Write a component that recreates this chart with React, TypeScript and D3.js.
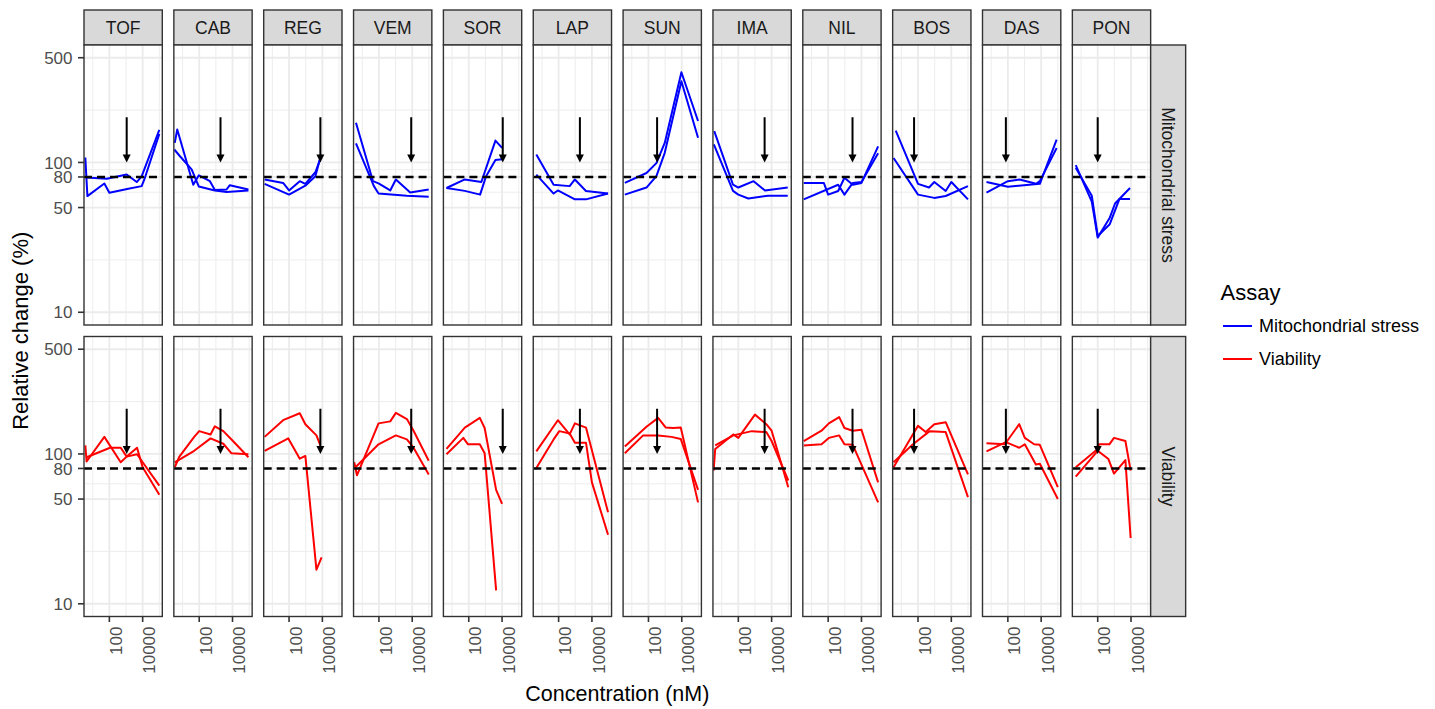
import React from 'react';
import * as d3 from 'd3';

// facets and labels
const drugs = ["TOF", "CAB", "REG", "VEM", "SOR", "LAP", "SUN", "IMA", "NIL", "BOS", "DAS", "PON"];
const assays = ["Mitochondrial stress", "Viability"];
const assayColors = ["#0000FF", "#FF0000"];
// arrow position (nM) per drug
const arrowConc = [1100, 1900, 7600, 8700, 11000, 1900, 330, 3800, 2900, 58, 76, 100];
const arrowFrom = 200;
const arrowTo = 100;
const threshold = 80;
const yBreaks = [10, 50, 80, 100, 500];
const yLimits = [10, 500];
const xBreaks = [100, 10000];
const xLimits = [3.0, 151000];

type Pt = [number, number];

// [concentration nM, relative change %] per replicate
const TOF_mito: Pt[][] = [
  [[3.6, 108], [4.8, 59.6], [50, 72.4], [100, 62.8], [1380, 66.8], [8700, 69.5], [12600, 77], [100000, 155]],
  [[4, 79.4], [70, 77.8], [1100, 83], [4400, 74], [8700, 80.7], [100000, 165]],
];
const CAB_mito: Pt[][] = [
  [[3.4, 135], [4.8, 166], [44, 71], [95, 82], [440, 75], [870, 65.4], [4400, 66], [6900, 70.5], [90000, 66]],
  [[3.2, 122], [7, 110], [35, 90], [95, 69], [870, 65], [4400, 63.5], [90000, 65]],
];
const REG_mito: Pt[][] = [
  [[3.4, 77], [44, 73], [100, 65], [440, 75], [950, 72], [3800, 86], [7600, 106]],
  [[3.4, 72], [100, 61], [950, 70], [3800, 81], [8500, 113]],
];
const VEM_mito: Pt[][] = [
  [[4.2, 184], [44, 75], [95, 72.5], [480, 65], [1040, 77], [7600, 63], [98000, 66]],
  [[4.2, 134], [50, 69.5], [95, 62], [4800, 60], [98000, 59]],
];
const SOR_mito: Pt[][] = [
  [[4.6, 67.5], [58, 77], [570, 74], [4000, 140], [10000, 125]],
  [[4.6, 67.5], [58, 64.6], [480, 61], [1100, 81], [4000, 104], [10000, 105]],
];
const LAP_mito: Pt[][] = [
  [[4.6, 113], [50, 71], [460, 69.5], [950, 77], [4400, 64.5], [93000, 62]],
  [[4.6, 83], [50, 62], [90, 65], [950, 56.7], [4400, 56.7], [93000, 62]],
];
const SUN_mito: Pt[][] = [
  [[3.8, 73], [76, 85], [300, 99], [950, 135], [9500, 400], [95000, 189]],
  [[3.8, 61], [76, 68], [300, 81], [950, 116], [9500, 348], [95000, 146]],
];
const IMA_mito: Pt[][] = [
  [[3.6, 162], [48, 71], [100, 68], [830, 75], [4000, 65], [93000, 68]],
  [[3.4, 132], [48, 64.6], [100, 61], [400, 57.5], [6000, 60], [93000, 60]],
];
const NIL_mito: Pt[][] = [
  [[3.4, 73], [55, 73], [100, 61], [400, 64.5], [950, 79], [3000, 71], [10000, 73], [100000, 128]],
  [[3.4, 56.7], [400, 71], [950, 61], [3000, 73], [10000, 74], [100000, 115]],
];
const BOS_mito: Pt[][] = [
  [[4.6, 163], [100, 72], [460, 68], [950, 74], [4600, 64.5], [10000, 74], [100000, 56.7]],
  [[3.4, 107], [100, 61], [950, 58], [4600, 59.7], [100000, 69.5]],
];
const DAS_mito: Pt[][] = [
  [[5.2, 74], [100, 68.8], [8300, 72], [85000, 142]],
  [[5.2, 63], [100, 75], [500, 77], [5000, 72], [8300, 75], [85000, 125]],
];
const PON_mito: Pt[][] = [
  [[4.8, 96], [44, 54.7], [100, 31.5], [530, 42.8], [1100, 53.2], [8700, 67.5]],
  [[4.8, 92], [44, 60], [100, 32.3], [530, 38.7], [2000, 57], [8700, 57]],
];

const TOF_viab: Pt[][] = [
  [[3.6, 114], [4.3, 89], [50, 130], [480, 88], [1100, 96], [4600, 110], [10000, 81.5], [100000, 53.5]],
  [[4.3, 95], [110, 110], [480, 110], [1100, 96], [4600, 99.5], [10000, 88], [100000, 61.5]],
];
const CAB_viab: Pt[][] = [
  [[3.4, 81.5], [6.3, 95.5], [50, 130], [100, 142], [480, 135], [870, 153], [2800, 142], [8700, 125], [90000, 95]],
  [[3.4, 88], [50, 105], [480, 127], [2800, 117], [8700, 101], [90000, 99.5]],
];
const REG_viab: Pt[][] = [
  [[3.4, 130], [44, 168], [440, 187], [950, 158], [4400, 133], [7600, 114]],
  [[3.4, 105], [90, 127], [440, 93], [950, 97], [4400, 16.9], [9000, 20.4]],
];
const VEM_viab: Pt[][] = [
  [[3.3, 88], [4.8, 72], [95, 160], [480, 165], [1040, 188], [4800, 171], [12000, 143], [98000, 90]],
  [[3.3, 80], [95, 116], [1040, 133], [4800, 125], [12000, 110], [98000, 73]],
];
const SOR_viab: Pt[][] = [
  [[4.6, 108], [58, 150], [460, 174], [900, 149], [4400, 57.6], [10000, 46.4]],
  [[4.6, 99.5], [47, 128], [90, 116], [460, 116], [900, 101], [4400, 12.3]],
];
const LAP_viab: Pt[][] = [
  [[4.6, 104], [90, 168], [460, 135], [950, 160], [4400, 150], [93000, 40.8]],
  [[4.6, 80.5], [50, 125], [110, 142], [460, 137], [950, 119], [4400, 119], [10000, 64.6], [93000, 28.9]],
];
const SUN_viab: Pt[][] = [
  [[3.8, 112], [76, 152], [380, 174], [1100, 150], [3000, 149], [8700, 150], [95000, 47.5]],
  [[3.8, 101], [48, 133], [380, 133], [2400, 130], [8700, 126], [95000, 57.6]],
];
const IMA_viab: Pt[][] = [
  [[3.3, 77.4], [4.1, 108], [50, 135], [100, 128], [1000, 183], [4800, 158], [10000, 143], [100000, 60]],
  [[4.1, 114], [50, 133], [650, 142], [4800, 140], [10000, 122], [100000, 66.5]],
];
const NIL_viab: Pt[][] = [
  [[3.4, 122], [40, 143], [110, 160], [460, 176], [950, 149], [3000, 143], [10000, 145], [100000, 64.6]],
  [[3.4, 114], [40, 116], [110, 128], [460, 133], [950, 116], [3000, 115], [100000, 47.5]],
];
const BOS_viab: Pt[][] = [
  [[3.4, 81.5], [100, 154], [290, 140], [950, 158], [4600, 163], [100000, 73]],
  [[3.4, 88], [50, 116], [500, 142], [4600, 140], [100000, 51.5]],
];
const DAS_viab: Pt[][] = [
  [[5.2, 118], [66, 116], [480, 158], [1040, 128], [3800, 116], [8300, 115], [100000, 60]],
  [[5.2, 104], [76, 120], [480, 110], [1040, 116], [4800, 85], [8300, 86], [100000, 50]],
];
const PON_viab: Pt[][] = [
  [[4.8, 70.5], [100, 105], [440, 92.5], [950, 74], [4600, 91], [9500, 27.5]],
  [[4.8, 81.5], [100, 108], [120, 116], [500, 116], [950, 128], [4600, 122], [9500, 77.4]],
];

const mitoSeries = [TOF_mito, CAB_mito, REG_mito, VEM_mito, SOR_mito, LAP_mito, SUN_mito, IMA_mito, NIL_mito, BOS_mito, DAS_mito, PON_mito];
const viabSeries = [TOF_viab, CAB_viab, REG_viab, VEM_viab, SOR_viab, LAP_viab, SUN_viab, IMA_viab, NIL_viab, BOS_viab, DAS_viab, PON_viab];

const FONT = "'Liberation Sans', Arial, Helvetica, sans-serif";

export default function App() {
  const width = 1435;
  const height = 709;
  const left0 = 84;
  const pitch = 89.85;
  const panelW = 78.3;
  const panelH = 280;
  const stripH = 35;
  const panelTops = [45, 336.5];
  const stripX = left0 + pitch * 11 + panelW;

  // ggplot style 5% expansion in log space
  const lo = Math.log10(yLimits[0]);
  const hi = Math.log10(yLimits[1]);
  const pad = (hi - lo) * 0.05;
  const y = d3.scaleLog().domain([10 ** (lo - pad), 10 ** (hi + pad)]).range([panelH, 0]);
  const x = d3.scaleLog().domain(xLimits).range([0, panelW]);

  // minor breaks halfway between majors (log space)
  const yMinor = d3.pairs([2, ...yBreaks, 2500]).map(([a, b]) => Math.sqrt(a * b))
    .filter(v => v > y.domain()[0] && v < y.domain()[1]);
  const xMinor = d3.pairs([1, ...xBreaks, 1e6]).map(([a, b]) => Math.sqrt(a * b));

  const line = d3.line<Pt>().x(d => x(d[0])).y(d => y(d[1]));
  const rows = [mitoSeries, viabSeries];

  return (
    <div style={{ position: 'absolute', left: 0, top: 0 }}>
      <svg width={width} height={height} style={{ display: 'block', background: '#fff', fontFamily: FONT }}>
        <defs>
          <clipPath id="pclip"><rect x={0} y={0} width={panelW} height={panelH} /></clipPath>
        </defs>

        {drugs.map((drug, i) => {
          const px = left0 + i * pitch;
          return (
            <g key={drug}>
              {/* top strip */}
              <rect x={px} y={panelTops[0] - stripH} width={panelW} height={stripH} fill="#D9D9D9" stroke="#333333" strokeWidth={1.4} />
              <text x={px + panelW / 2} y={panelTops[0] - stripH / 2} dy="0.36em" textAnchor="middle" fontSize={17.5} fill="#1A1A1A">{drug}</text>

              {rows.map((series, r) => {
                const top = panelTops[r];
                return (
                  <g key={r} transform={`translate(${px},${top})`}>
                    <rect x={0} y={0} width={panelW} height={panelH} fill="#fff" />
                    {yMinor.map(v => <line key={'ym' + v} x1={0} x2={panelW} y1={y(v)} y2={y(v)} stroke="#EBEBEB" strokeWidth={0.9} />)}
                    {xMinor.map(v => <line key={'xm' + v} x1={x(v)} x2={x(v)} y1={0} y2={panelH} stroke="#EBEBEB" strokeWidth={0.9} />)}
                    {yBreaks.map(v => <line key={'yM' + v} x1={0} x2={panelW} y1={y(v)} y2={y(v)} stroke="#EBEBEB" strokeWidth={1.8} />)}
                    {xBreaks.map(v => <line key={'xM' + v} x1={x(v)} x2={x(v)} y1={0} y2={panelH} stroke="#EBEBEB" strokeWidth={1.8} />)}
                    <g clipPath="url(#pclip)">
                      {series[i].map((rep, k) => (
                        <path key={k} d={line(rep) || ''} fill="none" stroke={assayColors[r]} strokeWidth={2} strokeLinejoin="round" />
                      ))}
                      <line x1={0} x2={panelW} y1={y(threshold)} y2={y(threshold)} stroke="#000" strokeWidth={2.6} strokeDasharray="8,5" />
                      <line x1={x(arrowConc[i])} x2={x(arrowConc[i])} y1={y(arrowFrom)} y2={y(arrowTo) - 6} stroke="#000" strokeWidth={2} />
                      <polygon
                        points={`${x(arrowConc[i])},${y(arrowTo)} ${x(arrowConc[i]) - 4},${y(arrowTo) - 8} ${x(arrowConc[i]) + 4},${y(arrowTo) - 8}`}
                        fill="#000" />
                    </g>
                    <rect x={0} y={0} width={panelW} height={panelH} fill="none" stroke="#333333" strokeWidth={1.4} />
                    {r === 1 && xBreaks.map(v => (
                      <g key={'xt' + v}>
                        <line x1={x(v)} x2={x(v)} y1={panelH} y2={panelH + 5.5} stroke="#333333" strokeWidth={1.6} />
                        <text transform={`translate(${x(v)},${panelH + 10}) rotate(-90)`} dy="0.74em" textAnchor="end" fontSize={17} fill="#4D4D4D">{v}</text>
                      </g>
                    ))}
                    {i === 0 && yBreaks.map(v => (
                      <g key={'yt' + v}>
                        <line x1={-6} x2={0} y1={y(v)} y2={y(v)} stroke="#333333" strokeWidth={1.6} />
                        <text x={-11.5} y={y(v)} dy="0.36em" textAnchor="end" fontSize={17} fill="#4D4D4D">{v}</text>
                      </g>
                    ))}
                  </g>
                );
              })}
            </g>
          );
        })}

        {/* right strips */}
        {assays.map((a, r) => (
          <g key={a}>
            <rect x={stripX} y={panelTops[r]} width={stripH} height={panelH} fill="#D9D9D9" stroke="#333333" strokeWidth={1.4} />
            <text transform={`translate(${stripX + stripH / 2},${panelTops[r] + panelH / 2}) rotate(90)`} dy="0.36em" textAnchor="middle" fontSize={17.5} fill="#1A1A1A">{a}</text>
          </g>
        ))}

        {/* axis titles */}
        <text transform={`translate(28,${(panelTops[0] + panelTops[1] + panelH) / 2}) rotate(-90)`} textAnchor="middle" fontSize={22} fill="#000">Relative change (%)</text>
        <text x={(left0 + stripX) / 2} y={701} textAnchor="middle" fontSize={21.5} fill="#000">Concentration (nM)</text>

        {/* legend */}
        <text x={1220.5} y={300} fontSize={22} fill="#000">Assay</text>
        {assays.map((a, r) => (
          <g key={'lg' + a} transform={`translate(0,${326 + r * 33})`}>
            <line x1={1223} x2={1252} y1={0} y2={0} stroke={assayColors[r]} strokeWidth={2} />
            <text x={1259} y={0} dy="0.36em" fontSize={18} fill="#000">{a}</text>
          </g>
        ))}
      </svg>
    </div>
  );
}
